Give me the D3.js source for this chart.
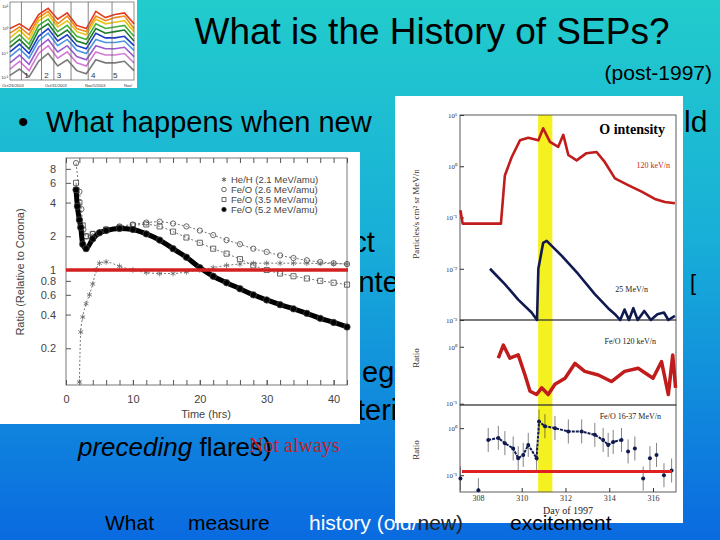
<!DOCTYPE html>
<html><head><meta charset="utf-8">
<script src="https://cdn.jsdelivr.net/npm/d3@7"></script>
<style>body{margin:0}svg{display:block}</style>
</head><body>
<svg id="s" width="720" height="540"></svg>
<script>
// ---------- data ----------
const heH_t   = [2,2.2,2.5,3,3.5,4,4.5,5,6,8,10,12,14,16,18,20,22,24,26,28,30,32,34,36,38,40,42];
const heH_v   = [0.1,0.28,0.38,0.5,0.6,0.75,1.0,1.15,1.18,1.08,1.0,0.95,0.93,0.93,0.96,1.0,1.05,1.1,1.13,1.15,1.15,1.15,1.15,1.15,1.14,1.14,1.13];
const fe26_t  = [1.5,2,2.3,2.6,3,4,6,8,10,12,14,16,18,20,22,24,26,28,30,32,34,36,38,40,42];
const fe26_v  = [9,5,3.5,2.3,2.0,2.1,2.3,2.45,2.55,2.65,2.7,2.6,2.45,2.25,2.05,1.85,1.7,1.55,1.45,1.35,1.28,1.22,1.18,1.15,1.13];
const fe35_t  = [1.5,2,2.5,3,4,6,8,10,12,14,16,18,20,22,24,26,28,30,32,34,36,38,40,42];
const fe35_v  = [6,4,2.5,2.0,2.1,2.3,2.4,2.5,2.55,2.45,2.2,1.95,1.75,1.55,1.4,1.25,1.1,1.0,0.93,0.88,0.84,0.8,0.77,0.74];
const fe52_t  = [1.5,1.7,2,2.2,2.5,3,4,5,6,8,10,12,14,16,18,20,22,24,26,28,30,32,34,36,38,40,42];
const fe52_v  = [5.2,3.7,2.8,2.4,1.7,1.55,1.9,2.15,2.25,2.35,2.3,2.1,1.85,1.55,1.3,1.05,0.88,0.77,0.68,0.6,0.54,0.49,0.45,0.41,0.37,0.34,0.31];
const insetYTicks = [0.2,0.4,0.6,0.8,1,2,4,6,8];
const insetXTicks = [0,10,20,30,40];
const legendLabels = ["He/H (2.1 MeV/amu)","Fe/O (2.6 MeV/amu)","Fe/O (3.5 MeV/amu)","Fe/O (5.2 MeV/amu)"];

const oLow_d  = [307.2,307.3,307.7,308.5,309.05,309.23,309.54,309.92,310.3,310.76,310.98,311.29,311.67,311.9,312.13,312.51,312.96,313.42,313.8,314.26,314.86,315.48,316.08,316.54,317.0];
const oLow_v  = [0.138,0.076,0.076,0.076,0.076,0.66,1.5,3.2,3.6,3.2,5.5,3.0,2.4,4.1,1.66,1.3,1.8,1.9,1.2,0.58,0.43,0.32,0.23,0.2,0.19];
const oHigh_d = [308.55,308.78,309.23,309.84,310.45,310.7,310.76,310.98,311.14,311.82,312.58,313.34,313.95,314.26,314.5,314.7,314.9,315.1,315.3,315.6,315.9,316.2,316.5,316.7,317.0];
const oHigh_v = [0.01,0.0079,0.005,0.0025,0.0014,0.001,0.01,0.032,0.035,0.018,0.0079,0.0032,0.0017,0.0013,0.001,0.0016,0.001,0.0017,0.001,0.0015,0.001,0.0013,0.0014,0.001,0.0012];
const feLow_d = [308.93,309.16,309.46,309.84,310.15,310.38,310.68,310.91,311.21,311.52,311.98,312.43,312.88,313.5,314.1,314.7,315.32,316.0,316.39,316.7,316.9,317.03];
const feLow_v = [0.63,1.07,0.63,0.72,0.32,0.166,0.145,0.19,0.145,0.22,0.28,0.51,0.37,0.32,0.245,0.37,0.42,0.28,0.55,0.145,0.72,0.19];
const feHigh_d = [307.2,308.02,308.47,308.93,309.23,309.61,309.84,310.07,310.3,310.68,310.79,311.06,311.52,312.13,312.74,313.34,313.72,313.95,314.18,314.56,314.86,315.17,315.55,315.86,316.16,316.5,316.85];
const feHigh_v = [0.085,0.048,0.56,0.62,0.48,0.37,0.23,0.27,0.44,0.23,1.38,1.1,1.0,0.85,0.85,0.72,0.56,0.44,0.51,0.56,0.32,0.37,0.085,0.23,0.27,0.1,0.126];
const dayTicks = [308,310,312,314,316];
const shadeDays = [310.75,311.4];

const thumbColors = ["#e33a1c","#f08a1a","#e8c41a","#46b03a","#1c7a2c","#1a3cc8","#4c94e2","#9a5ad0","#d47ad4","#7a7a7a"];
const thumb = [
 [0.3,0.6,0.2,1.2,1.6,0.9,1.3,0.5,0.3,1.4,1.0,1.2,1.3,0.6],
 [0.0,0.4,-0.1,1.0,1.4,0.6,1.1,0.3,0.1,1.1,0.8,1.0,1.1,0.3],
 [-0.3,0.2,-0.4,0.8,1.2,0.4,0.8,0.1,-0.1,0.9,0.6,0.7,0.8,0.1],
 [-0.6,-0.1,-0.7,0.5,0.9,0.1,0.5,-0.2,-0.4,0.6,0.3,0.4,0.5,-0.2],
 [-0.9,-0.4,-1.0,0.2,0.6,-0.2,0.2,-0.5,-0.7,0.3,0.0,0.1,0.2,-0.5],
 [-1.2,-0.7,-1.3,-0.2,0.3,-0.5,-0.1,-0.8,-1.0,0.0,-0.3,-0.3,-0.2,-0.8],
 [-1.5,-1.0,-1.6,-0.5,0.0,-0.8,-0.4,-1.1,-1.3,-0.4,-0.6,-0.6,-0.5,-1.1],
 [-1.9,-1.4,-2.0,-0.9,-0.4,-1.2,-0.8,-1.5,-1.7,-0.8,-1.0,-1.0,-0.9,-1.5],
 [-2.3,-1.8,-2.4,-1.3,-0.8,-1.6,-1.2,-1.9,-2.1,-1.2,-1.4,-1.4,-1.3,-1.9],
 [-2.7,-2.3,-2.8,-1.8,-1.3,-2.1,-1.7,-2.4,-2.6,-1.7,-1.9,-1.9,-1.8,-2.4]
];
const thumbEvents = ["1","2","3","4","5"];

// ---------- drawing ----------
const svg = d3.select("#s");
const defs = svg.append("defs");
const g = defs.append("linearGradient").attr("id","bg").attr("x1",0).attr("y1",0).attr("x2",0).attr("y2",1);
g.append("stop").attr("offset","0%").attr("stop-color","#22cccc");
g.append("stop").attr("offset","45%").attr("stop-color","#18aed8");
g.append("stop").attr("offset","100%").attr("stop-color","#0a6ae0");
svg.append("rect").attr("width",720).attr("height",540).attr("fill","url(#bg)");

const sans = "Liberation Sans, Arial, sans-serif", serif = "Liberation Serif, Times New Roman, serif";
function txt(x,y,s,size,opt={}){
  return svg.append("text").attr("x",x).attr("y",y).text(s).attr("font-family",opt.ff||sans)
   .attr("font-size",size).attr("fill",opt.fill||"#000").attr("text-anchor",opt.anchor||"start")
   .attr("font-style",opt.italic?"italic":null).attr("font-weight",opt.bold?"bold":null);
}
txt(432,44,"What is the History of SEPs?",37,{anchor:"middle"});
txt(712,80,"(post-1997)",21,{anchor:"end"});
txt(18,132,"•",30);
txt(46,132,"What happens when new",29);
txt(46,174,"belief?",29);
txt(336,252,"ect",29);
txt(352,292,"inte",29);
txt(690,290,"[",22);
txt(362,382,"egio",29);
txt(357,420,"teria",29);
svg.append("text").attr("x",78).attr("y",456).attr("font-family",sans).attr("font-size",26)
  .call(t=>{t.append("tspan").attr("font-style","italic").text("preceding");t.append("tspan").text(" flares)");});
txt(249,452,"Not always",20,{ff:serif,fill:"#c0201c"});

// ---- thumbnail ----
svg.append("rect").attr("x",0).attr("y",0).attr("width",137).attr("height",88).attr("fill","#fff");
const tx = d3.scaleLinear().domain([0,13]).range([10,134]);
const ty = d3.scaleLinear().domain([-3,2]).range([80,2]);
thumb.forEach((s,i)=>{
  svg.append("path").attr("d",d3.line().x((d,j)=>tx(j)).y(d=>ty(d))(s)).attr("fill","none")
   .attr("stroke",thumbColors[i]).attr("stroke-width",1.6);
});
[1.2,3.3,4.6,6.4,8.2,10.7].forEach(v=>svg.append("line").attr("x1",tx(v)).attr("x2",tx(v)).attr("y1",2).attr("y2",80).attr("stroke","#666").attr("stroke-width",0.8));
svg.append("rect").attr("x",10).attr("y",2).attr("width",124).attr("height",78).attr("fill","none").attr("stroke","#444").attr("stroke-width",0.6);
thumbEvents.forEach((e,i)=>txt(tx([1.5,3.6,4.9,8.5,10.8][i]),78,e,8,{fill:"#333"}));
["10²","10⁰","10⁻¹","10⁻²"].forEach((l,i)=>txt(8,[8,30,55,79][i],l,4,{anchor:"end",fill:"#333"}));
["Oct/26/2003","Oct/31/2003","Nov/5/2003","Nov/"].forEach((l,i)=>txt([2,45,85,124][i],87,l,4,{fill:"#333"}));

// ---- inset chart ----
svg.append("rect").attr("x",0).attr("y",152).attr("width",360).attr("height",272).attr("fill","#fff");
const ix = d3.scaleLinear().domain([0,42]).range([66,347]);
const iy = d3.scaleLog().domain([0.094,10]).range([385,158]);
const ia = svg.append("g");
ia.append("rect").attr("x",66).attr("y",158).attr("width",281).attr("height",227).attr("fill","none").attr("stroke","#555").attr("stroke-width",0.8);
ia.append("g").attr("transform","translate(0,385)").call(d3.axisBottom(ix).tickValues(insetXTicks).tickSize(-5).tickPadding(10))
  .call(a=>{a.select(".domain").remove();a.selectAll("text").attr("font-family",sans).attr("font-size",11).attr("fill","#444");a.selectAll("line").attr("stroke","#555");});
ia.append("g").attr("transform","translate(0,158)").call(d3.axisTop(ix).ticks(21).tickSize(-5).tickFormat(""))
  .call(a=>{a.select(".domain").remove();a.selectAll("line").attr("stroke","#555");});
ia.append("g").attr("transform","translate(0,385)").call(d3.axisTop(ix).ticks(21).tickSize(5).tickFormat(""))
  .call(a=>{a.select(".domain").remove();a.selectAll("line").attr("stroke","#555");});
ia.append("g").attr("transform","translate(66,0)").call(d3.axisLeft(iy).tickValues(insetYTicks).tickSize(-5).tickPadding(10).tickFormat(d=>d))
  .call(a=>{a.select(".domain").remove();a.selectAll("text").attr("font-family",sans).attr("font-size",11).attr("fill","#444");a.selectAll("line").attr("stroke","#555");});
txt(206,418,"Time (hrs)",11,{anchor:"middle",fill:"#444"});
svg.append("text").attr("transform","translate(24,272) rotate(-90)").attr("text-anchor","middle").attr("font-family",sans).attr("font-size",11).attr("fill","#444").text("Ratio (Relative to Corona)");
const lineI = d3.line().curve(d3.curveMonotoneX);
function series(t,v,shape,fill,size){
  const pts=t.map((d,i)=>[ix(d),iy(v[i])]);
  ia.append("path").attr("d",lineI(pts)).attr("fill","none").attr("stroke",fill?"#000":"#777").attr("stroke-width",fill?5:1).attr("stroke-dasharray",fill?null:"2,2");
  ia.selectAll(null).data(pts).enter().append("path").attr("transform",d=>`translate(${d[0]},${d[1]})`)
    .attr("d",d3.symbol().type(shape).size(size)).attr("fill",fill?"#000":"none").attr("stroke",shape===d3.symbolAsterisk?"#666":"#444").attr("stroke-width",0.8);
}
series(fe26_t,fe26_v,d3.symbolCircle,false,22);
series(fe35_t,fe35_v,d3.symbolSquare,false,26);
series(heH_t,heH_v,d3.symbolAsterisk,false,22);
series(fe52_t,fe52_v,d3.symbolCircle,true,32);
ia.append("line").attr("x1",66).attr("x2",348).attr("y1",iy(1)).attr("y2",iy(1)).attr("stroke","#d42020").attr("stroke-width",3.5);
const legSym=[d3.symbolAsterisk,d3.symbolCircle,d3.symbolSquare,d3.symbolCircle];
legendLabels.forEach((l,i)=>{
  const y=183+i*10;
  ia.append("path").attr("transform",`translate(224,${y-3.5})`).attr("d",d3.symbol().type(legSym[i]).size(16))
    .attr("fill",i===3?"#000":"none").attr("stroke","#444").attr("stroke-width",0.8);
  txt(231,y,l,9.5,{fill:"#444"});
});

// ---- right figure ----
svg.append("rect").attr("x",395).attr("y",96).attr("width",288).attr("height",427).attr("fill","#fff");
const rx = d3.scaleLinear().domain([307.18,317.05]).range([460,676]);
svg.append("rect").attr("x",rx(shadeDays[0])).attr("y",115).attr("width",rx(shadeDays[1])-rx(shadeDays[0])).attr("height",377).attr("fill","#f5f020");
const panels = [
  {y0:115,y1:320,dom:[0.001,10],ticks:[10,1,0.1,0.01,0.001],labs:["10¹","10⁰","10⁻¹","10⁻²","10⁻³"]},
  {y0:320,y1:405,dom:[0.095,2.95],ticks:[1,0.1],labs:["10⁰","10⁻¹"]},
  {y0:405,y1:492,dom:[0.044,3.1],ticks:[1,0.1],labs:["10⁰","10⁻¹"]}
];
panels.forEach(p=>{
  p.sy=d3.scaleLog().domain(p.dom).range([p.y1,p.y0]);
  svg.append("rect").attr("x",460).attr("y",p.y0).attr("width",216).attr("height",p.y1-p.y0).attr("fill","none").attr("stroke","#333").attr("stroke-width",0.8);
  svg.append("g").attr("transform","translate(460,0)").call(d3.axisLeft(p.sy).tickValues(p.ticks).tickSize(-4).tickFormat((d,i)=>p.labs[i]))
    .call(a=>{a.select(".domain").remove();a.selectAll("text").attr("font-family",serif).attr("font-size",7).attr("fill","#333");a.selectAll("line").attr("stroke","#333");});
});
svg.append("g").attr("transform","translate(0,492)").call(d3.axisBottom(rx).tickValues(dayTicks).tickSize(-4).tickPadding(3))
  .call(a=>{a.select(".domain").remove();a.selectAll("text").attr("font-family",serif).attr("font-size",8).attr("fill","#333");a.selectAll("line").attr("stroke","#333");});
const rl = (sy)=>d3.line().x(d=>rx(d[0])).y(d=>sy(d[1]));
function rpath(d,v,sy,col,w){svg.append("path").attr("d",rl(sy)(d.map((x,i)=>[x,v[i]]))).attr("fill","none").attr("stroke",col).attr("stroke-width",w).attr("stroke-linejoin","round");}
rpath(oLow_d,oLow_v,panels[0].sy,"#c01c1c",2.6);
rpath(oHigh_d,oHigh_v,panels[0].sy,"#101a50",2.6);
rpath(feLow_d,feLow_v,panels[1].sy,"#c01c1c",3.5);
const sy4=panels[2].sy;
feHigh_d.forEach((d,i)=>{
  const v=feHigh_v[i];
  svg.append("line").attr("x1",rx(d)).attr("x2",rx(d)).attr("y1",sy4(Math.min(v*1.8,3))).attr("y2",sy4(Math.max(v/1.8,0.045))).attr("stroke","#333").attr("stroke-width",0.6);
});
svg.append("path").attr("d",rl(sy4)(feHigh_d.slice(2,20).map((x,i)=>[x,feHigh_v[i+2]]))).attr("fill","none").attr("stroke","#101a50").attr("stroke-width",2).attr("stroke-dasharray","3,1");
svg.selectAll(null).data(feHigh_d).enter().append("circle").attr("cx",d=>rx(d)).attr("cy",(d,i)=>sy4(feHigh_v[i])).attr("r",2).attr("fill","#101a50");
svg.append("line").attr("x1",462).attr("x2",672).attr("y1",sy4(0.12)).attr("y2",sy4(0.12)).attr("stroke","#e02020").attr("stroke-width",3);
txt(665,134,"O intensity",14,{ff:serif,bold:true,anchor:"end"});
txt(670,168,"120 keV/n",8,{ff:serif,fill:"#c01c1c",anchor:"end"});
txt(648,292,"25 MeV/n",8,{ff:serif,anchor:"end",fill:"#222"});
txt(656,344,"Fe/O 120 keV/n",8,{ff:serif,anchor:"end",fill:"#222"});
txt(661,419,"Fe/O 16-37 MeV/n",8,{ff:serif,anchor:"end",fill:"#222"});
txt(568,514,"Day of 1997",10,{ff:serif,anchor:"middle",fill:"#222"});
[["Particles/s cm² sr MeV/n",214],["Ratio",358],["Ratio",450]].forEach(([l,y])=>
  svg.append("text").attr("transform",`translate(419,${y}) rotate(-90)`).attr("text-anchor","middle").attr("font-family",serif).attr("font-size",9).attr("fill","#333").text(l));
txt(684,132,"ld",30);

// bottom line of slide (drawn over the figure)
txt(105,530,"What",21);
txt(188,530,"measure",21);
svg.append("text").attr("x",309).attr("y",530).attr("font-family",sans).attr("font-size",21)
  .call(t=>{t.append("tspan").attr("fill","#fff").text("history (old/");t.append("tspan").attr("fill","#222").text("new)");});
txt(510,530,"excitement",21);
</script>
</body></html>
